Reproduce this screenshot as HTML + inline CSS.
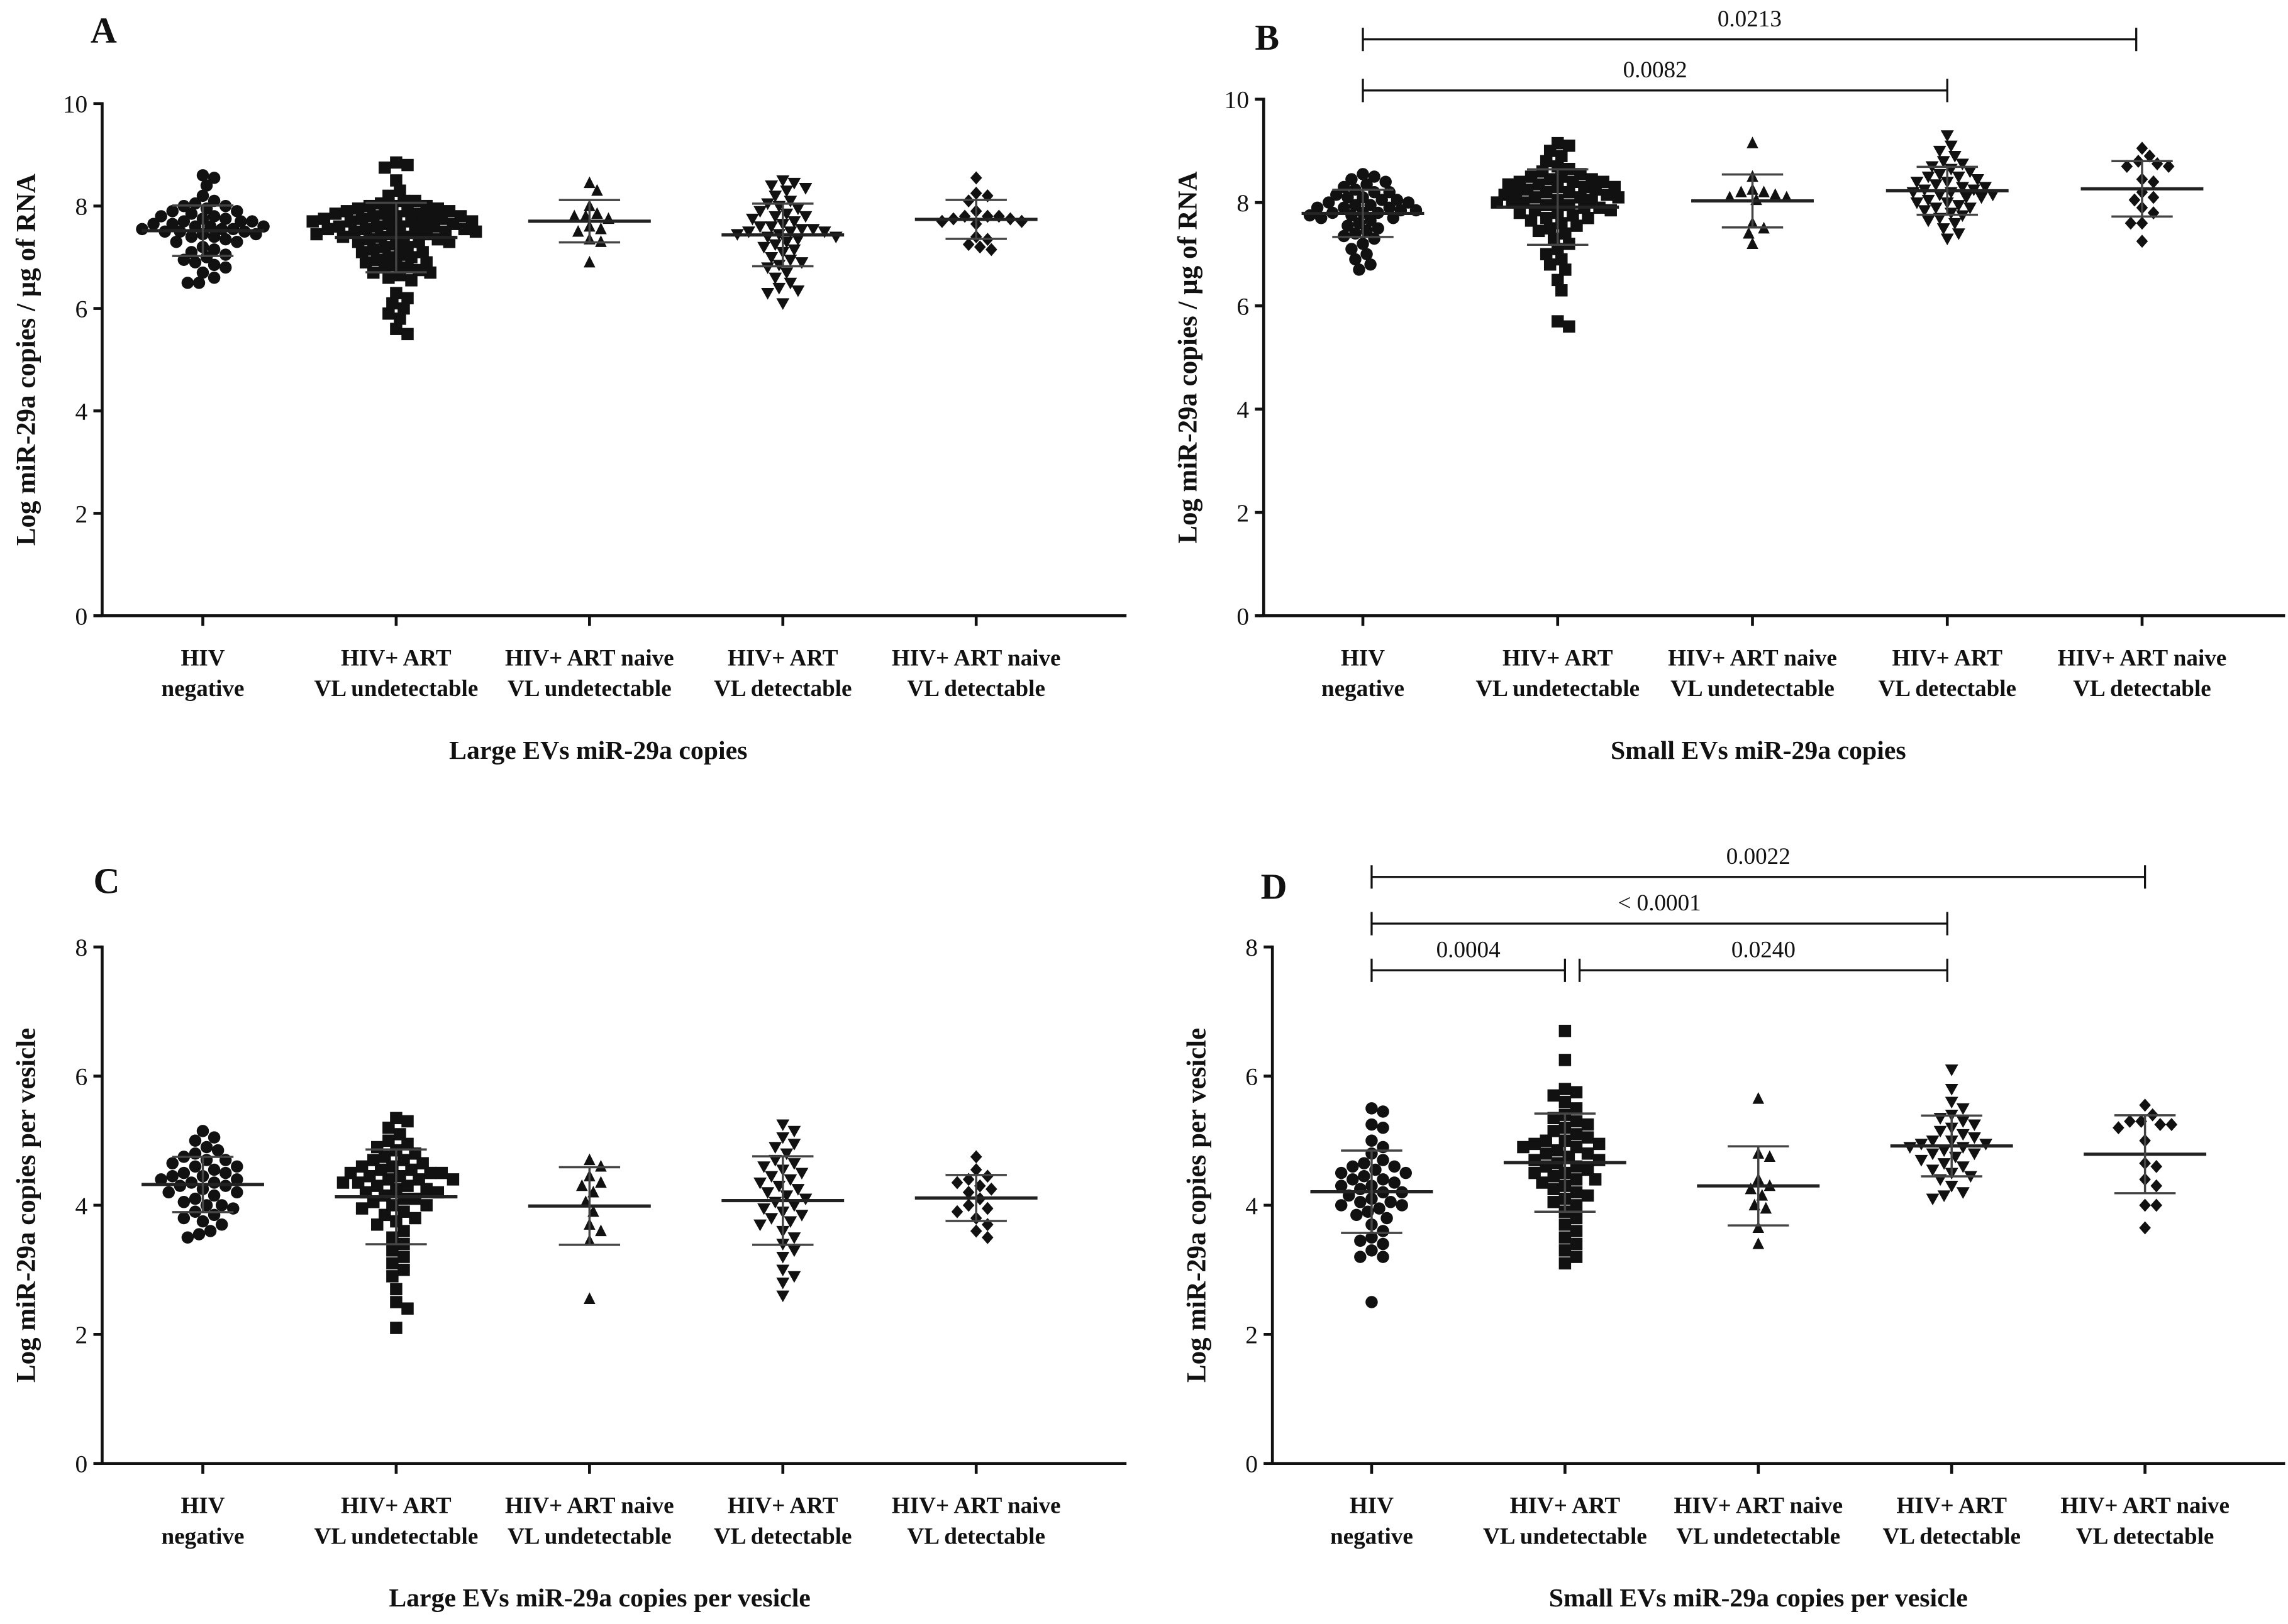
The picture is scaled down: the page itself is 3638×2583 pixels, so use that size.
<!DOCTYPE html>
<html><head><meta charset="utf-8">
<style>
html,body{margin:0;padding:0;background:#fff;}
svg{display:block;font-family:"Liberation Serif",serif;}
</style></head>
<body>
<svg id="fig" width="3638" height="2583" viewBox="0 0 1568 1113" preserveAspectRatio="none" xmlns="http://www.w3.org/2000/svg"></svg>
<script>
const categories = ["HIV|negative","HIV+ ART|VL undetectable","HIV+ ART naive|VL undetectable","HIV+ ART|VL detectable","HIV+ ART naive|VL detectable"];
const markers = ["circle","square","up","down","diamond"];
const ticksA = [0,2,4,6,8,10];
const ticksC = [0,2,4,6,8];

const a1=[8.6,8.55,8.4,8.2,8.1,8.05,8.0,8.0,7.95,7.9,7.9,7.85,7.8,7.8,7.75,7.75,7.7,7.7,7.7,7.65,7.65,7.6,7.6,7.6,7.55,7.55,7.55,7.5,7.5,7.5,7.45,7.45,7.4,7.4,7.35,7.3,7.3,7.2,7.15,7.1,7.05,7.0,6.95,6.9,6.85,6.8,6.7,6.6,6.5,6.5];
const a2=[8.85,8.8,8.75,8.5,8.3,8.2,8.1,8.1,8.05,8.0,8.0,8.0,7.95,7.95,7.9,7.9,7.9,7.85,7.85,7.85,7.8,7.8,7.8,7.8,7.75,7.75,7.75,7.7,7.7,7.7,7.7,7.65,7.65,7.65,7.6,7.6,7.6,7.6,7.55,7.55,7.55,7.5,7.5,7.5,7.5,7.45,7.45,7.45,7.4,7.4,7.4,7.35,7.35,7.3,7.3,7.3,7.25,7.2,7.2,7.15,7.1,7.1,7.05,7.0,7.0,6.95,6.9,6.9,6.85,6.8,6.8,6.75,6.7,6.7,6.65,6.6,6.55,6.3,6.2,6.1,6.0,5.9,5.8,5.6,5.5];
const a3=[8.45,8.3,8.0,7.85,7.8,7.8,7.75,7.6,7.55,7.5,7.35,7.3,6.9];
const a4=[8.5,8.45,8.4,8.35,8.3,8.2,8.1,8.05,8.0,7.95,7.9,7.85,7.8,7.8,7.75,7.7,7.65,7.6,7.6,7.55,7.55,7.5,7.5,7.5,7.45,7.45,7.4,7.4,7.35,7.3,7.25,7.2,7.15,7.1,7.0,6.95,6.9,6.85,6.8,6.7,6.6,6.5,6.4,6.35,6.3,6.1];
const a5=[8.55,8.25,8.2,8.1,7.9,7.8,7.8,7.8,7.75,7.75,7.7,7.7,7.65,7.4,7.35,7.25,7.2,7.15];

const b1=[8.55,8.5,8.45,8.4,8.35,8.3,8.25,8.2,8.2,8.15,8.1,8.1,8.05,8.05,8.0,8.0,7.95,7.95,7.9,7.9,7.9,7.85,7.85,7.8,7.8,7.8,7.75,7.75,7.7,7.7,7.65,7.6,7.55,7.5,7.45,7.4,7.35,7.3,7.2,7.1,7.0,6.9,6.8,6.7];
const b2=[9.15,9.1,9.0,8.9,8.8,8.7,8.65,8.6,8.55,8.5,8.5,8.45,8.45,8.4,8.4,8.4,8.35,8.35,8.3,8.3,8.3,8.25,8.25,8.2,8.2,8.2,8.15,8.15,8.1,8.1,8.1,8.05,8.05,8.0,8.0,8.0,7.95,7.95,7.9,7.9,7.85,7.85,7.8,7.8,7.75,7.7,7.7,7.65,7.6,7.55,7.5,7.45,7.4,7.3,7.2,7.1,7.0,6.9,6.8,6.7,6.5,6.3,5.7,5.6];
const b3=[9.15,8.5,8.25,8.2,8.2,8.15,8.1,8.1,8.05,7.6,7.5,7.4,7.2];
const b4=[9.3,9.1,9.0,8.9,8.8,8.75,8.7,8.65,8.6,8.55,8.5,8.5,8.45,8.4,8.4,8.35,8.3,8.3,8.25,8.25,8.2,8.2,8.15,8.15,8.1,8.1,8.05,8.0,8.0,7.95,7.9,7.9,7.85,7.8,7.75,7.7,7.65,7.6,7.5,7.4,7.3];
const b5=[9.05,8.9,8.8,8.75,8.7,8.7,8.45,8.4,8.2,8.1,8.05,7.9,7.8,7.6,7.6,7.25];

const c1=[5.15,5.05,5.0,4.9,4.85,4.8,4.75,4.7,4.7,4.65,4.6,4.6,4.55,4.5,4.5,4.45,4.45,4.4,4.4,4.35,4.35,4.3,4.3,4.25,4.2,4.2,4.15,4.1,4.05,4.0,4.0,3.95,3.9,3.85,3.8,3.75,3.7,3.6,3.55,3.5];
const c2=[5.35,5.3,5.2,5.1,5.0,4.95,4.9,4.85,4.8,4.75,4.7,4.7,4.65,4.6,4.6,4.55,4.55,4.5,4.5,4.5,4.45,4.45,4.4,4.4,4.4,4.35,4.35,4.3,4.3,4.25,4.25,4.2,4.2,4.15,4.1,4.1,4.05,4.0,4.0,3.95,3.9,3.85,3.8,3.75,3.7,3.6,3.5,3.4,3.3,3.2,3.1,3.0,2.9,2.7,2.5,2.4,2.1];
const c3=[4.7,4.6,4.45,4.35,4.3,4.2,4.05,3.9,3.7,3.6,3.45,2.55];
const c4=[5.25,5.15,5.05,4.95,4.9,4.8,4.7,4.65,4.6,4.55,4.5,4.45,4.4,4.35,4.3,4.25,4.2,4.15,4.1,4.05,4.0,3.95,3.9,3.85,3.8,3.75,3.7,3.6,3.5,3.4,3.3,3.2,3.0,2.9,2.8,2.6];
const c5=[4.75,4.55,4.45,4.4,4.35,4.3,4.25,4.2,4.1,4.0,3.95,3.9,3.8,3.7,3.6,3.5];

const d1=[5.5,5.45,5.25,5.2,5.0,4.9,4.8,4.7,4.65,4.6,4.6,4.55,4.5,4.5,4.45,4.4,4.4,4.35,4.3,4.3,4.25,4.2,4.2,4.15,4.1,4.05,4.05,4.0,4.0,3.95,3.9,3.85,3.8,3.7,3.6,3.5,3.45,3.4,3.3,3.2,3.2,2.5];
const d2=[6.7,6.25,5.8,5.75,5.7,5.6,5.5,5.4,5.35,5.3,5.25,5.2,5.15,5.1,5.05,5.0,5.0,4.95,4.95,4.9,4.9,4.85,4.8,4.8,4.75,4.7,4.7,4.65,4.6,4.6,4.55,4.5,4.5,4.45,4.4,4.4,4.35,4.3,4.25,4.2,4.15,4.1,4.05,4.0,3.9,3.8,3.7,3.6,3.5,3.4,3.3,3.2,3.1];
const d3=[5.65,4.8,4.75,4.4,4.3,4.25,4.15,4.0,3.95,3.65,3.4];
const d4=[6.1,5.8,5.6,5.5,5.4,5.35,5.3,5.25,5.2,5.15,5.1,5.05,5.0,5.0,4.95,4.95,4.9,4.9,4.85,4.8,4.8,4.75,4.7,4.65,4.6,4.55,4.5,4.45,4.4,4.3,4.2,4.15,4.1];
const d5=[5.55,5.4,5.3,5.3,5.25,5.25,5.2,5.0,4.65,4.6,4.4,4.3,4.0,4.0,3.65];

const pvalsB=["0.0082","0.0213"];
const pvalsD=["0.0004","0.0240","< 0.0001","0.0022"];

const NS="http://www.w3.org/2000/svg";
const svg=document.getElementById('fig');
function mk(tag,attrs,parent){const e=document.createElementNS(NS,tag);for(const k in attrs)e.setAttribute(k,attrs[k]);(parent||svg).appendChild(e);return e;}
function txt(s,x,y,size,weight,anchor,parent){const t=mk('text',{x:x,y:y,'font-size':size,'font-weight':weight||'normal','text-anchor':anchor||'middle',fill:'#111'},parent);t.textContent=s;return t;}

function panel(cfg){
  const g=mk('g',{});
  
  
  const ax=cfg.ax, y0=cfg.y0, yT=cfg.yT, ymax=cfg.ymax;
  const yS=v=>y0-(v/ymax)*(y0-yT);
  const xS=i=>cfg.cx0+i*cfg.step;
  const L=txt(cfg.letter,cfg.lx,cfg.ly,25,'bold','start',g);
  
  
  const ya=mk('line',{x1:ax,y1:yT-1,x2:ax,y2:y0,stroke:'#111','stroke-width':2},g);
  
  
  const xa=mk('line',{x1:ax-6,y1:y0,x2:cfg.xend,y2:y0,stroke:'#111','stroke-width':2},g);
  
  
  cfg.ticks.forEach(t=>{
    mk('line',{x1:ax-6,y1:yS(t),x2:ax,y2:yS(t),stroke:'#111','stroke-width':2},g);
    const tl=txt(String(t),ax-10,yS(t)+6,17,'normal','end',g);
    
    
  });
  categories.forEach((c,i)=>{
    mk('line',{x1:xS(i),y1:y0,x2:xS(i),y2:y0+7,stroke:'#111','stroke-width':2},g);
    const p=c.split('|');
    const t1=txt(p[0],xS(i),y0+34,16,'bold','middle',g);
    
    
    const t2=txt(p[1],xS(i),y0+55,16,'bold','middle',g);
    
    
  });
  const xt=txt(cfg.xtitle,cfg.xtx,y0+98,18,'bold','middle',g);
  
  
  const yt=txt(cfg.ytitle,0,0,18.5,'bold','middle',g);
  yt.setAttribute('transform','translate('+(ax-46)+','+((y0+yT)/2)+') rotate(-90)');
  
  
  const r=4.2, minD=7.4;
  cfg.data.forEach((vals,i)=>{
    const cx=xS(i);
    const gg=mk('g',{},g);
    
    
    const placed=[];
    const sorted=vals.slice().sort((a,b)=>b-a);
    sorted.forEach(v=>{
      const py=yS(v);
      let px=cx;
      for(let k=0;k<60;k++){
        const off=(k===0?0:(k%2?1:-1)*Math.ceil(k/2)*2.6);
        const tx=cx+off;
        if(placed.every(q=>Math.hypot(q[0]-tx,q[1]-py)>=minD)){px=tx;break;}
      }
      placed.push([px,py]);
      let m;
      const mt=markers[i];
      if(mt==='circle') m=mk('circle',{cx:px,cy:py,r:r,fill:'#111'},gg);
      else if(mt==='square') m=mk('rect',{x:px-r,y:py-r,width:2*r,height:2*r,fill:'#111'},gg);
      else if(mt==='up') m=mk('polygon',{points:`${px},${py-4.5} ${px-4},${py+3.5} ${px+4},${py+3.5}`,fill:'#111'},gg);
      else if(mt==='down') m=mk('polygon',{points:`${px},${py+4.5} ${px-4.5},${py-3.5} ${px+4.5},${py-3.5}`,fill:'#111'},gg);
      else m=mk('polygon',{points:`${px},${py-4.5} ${px+4},${py} ${px},${py+4.5} ${px-4},${py}`,fill:'#111'},gg);
      
      
    });
    const mean=vals.reduce((a,b)=>a+b,0)/vals.length;
    const sd=Math.sqrt(vals.reduce((a,b)=>a+(b-mean)*(b-mean),0)/(vals.length-1));
    const ml=mk('line',{x1:cx-42,y1:yS(mean),x2:cx+42,y2:yS(mean),stroke:'#222','stroke-width':2.2},gg);
    
    
    const sl=mk('path',{d:`M${cx-21},${yS(mean+sd)}H${cx+21}M${cx},${yS(mean+sd)}V${yS(mean-sd)}M${cx-21},${yS(mean-sd)}H${cx+21}`,stroke:'#444','stroke-width':1.5,fill:'none'},gg);
    
    
  });
  (cfg.brackets||[]).forEach(b=>{
    const x1=xS(b[0])+(b[3]||0), x2=xS(b[1])+(b[4]||0);
    const br=mk('path',{d:`M${x1},${b[2]-8}V${b[2]+8}M${x1},${b[2]}H${x2}M${x2},${b[2]-8}V${b[2]+8}`,stroke:'#111','stroke-width':1.4,fill:'none'},g);
    
    
    const pt=txt(b[5],(x1+x2)/2,b[2]-9,16,'normal','middle',g);
    
    
  });
}

panel({name:'panel-a',letter:'A',lx:62,ly:29,ax:70,y0:422,yT:71,ymax:10,ticks:ticksA,cx0:139,step:132.5,xend:772,
  xtitle:'Large EVs miR-29a copies',xtx:410,ytitle:'Log miR-29a copies / µg of RNA',data:[a1,a2,a3,a4,a5]});
panel({name:'panel-b',letter:'B',lx:860,ly:34,ax:866,y0:422,yT:68,ymax:10,ticks:ticksA,cx0:934,step:133.5,xend:1566,
  xtitle:'Small EVs miR-29a copies',xtx:1205,ytitle:'Log miR-29a copies / µg of RNA',data:[b1,b2,b3,b4,b5],
  brackets:[[0,3,62,0,0,pvalsB[0]],[0,4,27,0,-4,pvalsB[1]]]});
panel({name:'panel-c',letter:'C',lx:64,ly:612,ax:70,y0:1003,yT:649,ymax:8,ticks:ticksC,cx0:139,step:132.5,xend:772,
  xtitle:'Large EVs miR-29a copies per vesicle',xtx:411,ytitle:'Log miR-29a copies per vesicle',data:[c1,c2,c3,c4,c5]});
panel({name:'panel-d',letter:'D',lx:864,ly:616,ax:872,y0:1003,yT:649,ymax:8,ticks:ticksC,cx0:940,step:132.5,xend:1566,
  xtitle:'Small EVs miR-29a copies per vesicle',xtx:1205,ytitle:'Log miR-29a copies per vesicle',data:[d1,d2,d3,d4,d5],
  brackets:[[0,1,665,0,0,pvalsD[0]],[1,3,665,10,-3,pvalsD[1]],[0,3,633,0,-3,pvalsD[2]],[0,4,601,0,0,pvalsD[3]]]});
</script>
</body></html>
